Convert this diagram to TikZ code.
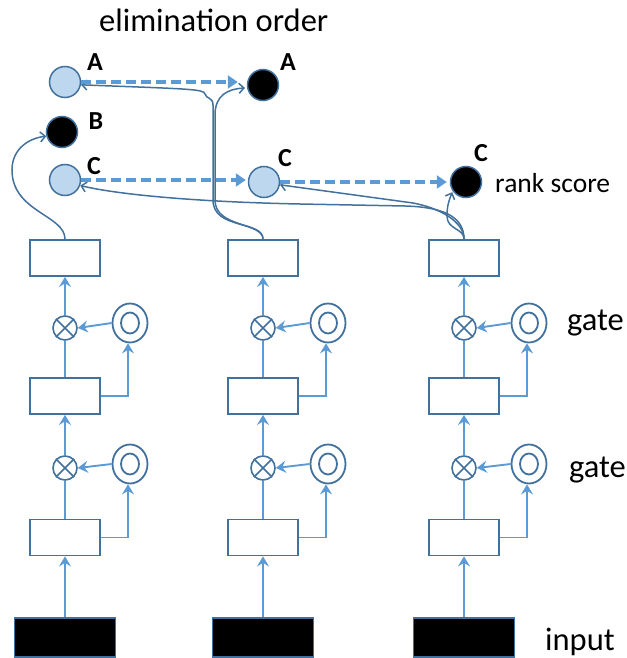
\documentclass[tikz,border=0pt]{standalone}
\usepackage{fontspec}
\setmainfont{Carlito}
\usetikzlibrary{arrows.meta,shapes.geometric}
\definecolor{dk}{HTML}{41719C}
\definecolor{lt}{HTML}{5B9BD5}
\definecolor{fillb}{HTML}{BDD7EE}
\begin{document}
\begin{tikzpicture}[x=1pt,y=-1pt,
 box/.style={draw=dk, line width=1.8pt, fill=white, minimum width=70pt, minimum height=36pt, inner sep=0pt},
 inbox/.style={draw=dk, line width=1.3pt, fill=black, minimum width=101pt, minimum height=39pt, inner sep=0pt},
 mult/.style={circle, draw=dk, line width=1.6pt, fill=white, minimum size=24pt, inner sep=0pt},
 gatec/.style={ellipse, draw=dk, line width=1.8pt, fill=white, minimum width=35pt, minimum height=39pt, inner sep=0pt},
 ball/.style={circle, draw=dk, line width=1.5pt, minimum size=31pt, inner sep=0pt},
 lball/.style={ball, fill=fillb},
 dball/.style={ball, fill=black},
 flow/.style={draw=lt, line width=1.9pt},
 flowarr/.style={flow, -{Stealth[length=10pt,width=12pt,inset=3.5pt]}},
 dasharr/.style={draw=lt, line width=3.6pt, dash pattern=on 10pt off 5pt, -{Triangle[length=10pt,width=13pt]}},
 thinarr/.style={draw=dk, line width=1.5pt, -{Straight Barb[length=5pt,width=10pt]}},
 lab/.style={font=\bfseries\fontsize{26}{26}\selectfont, inner sep=0pt},
 txt/.style={font=\fontsize{32.5}{32.5}\selectfont, inner sep=0pt, anchor=base west},
]
\useasboundingbox (0,0) rectangle (626,658);

\foreach \i/\cx in {1/65, 2/263, 3/464} {
  \node[box] (tb\i) at (\cx,258) {};
  \node[mult] (mu\i) at (\cx,328) {};
  \node[gatec] (gu\i) at (\cx+65,323) {};
  \node[box] (mb\i) at (\cx,396) {};
  \node[mult] (ml\i) at (\cx,468) {};
  \node[gatec] (gl\i) at (\cx+65,464) {};
  \node[box] (lb\i) at (\cx,537.5) {};
  \node[inbox] (in\i) at (\cx,637.5) {};
  \draw[dk,line width=1.5pt] (mu\i.north west) -- (mu\i.south east) (mu\i.north east) -- (mu\i.south west);
  \draw[dk,line width=1.5pt] (ml\i.north west) -- (ml\i.south east) (ml\i.north east) -- (ml\i.south west);
  \draw[dk,line width=1.8pt] (gu\i.center) ellipse [x radius=9pt, y radius=10.5pt];
  \draw[dk,line width=1.8pt] (gl\i.center) ellipse [x radius=9pt, y radius=10.5pt];
  \draw[flowarr] (in\i.north) -- (lb\i.south);
  \draw[flow] (lb\i.north) -- (ml\i.south);
  \draw[flowarr] (ml\i.north) -- (mb\i.south);
  \draw[flow] (mb\i.north) -- (mu\i.south);
  \draw[flowarr] (mu\i.north) -- (tb\i.south);
  \draw[flowarr] (gu\i.west) -- (mu\i.east);
  \draw[flowarr] (gl\i.west) -- (ml\i.east);
  \draw[flowarr] (mb\i.east) -| ([xshift=-2pt]gu\i.south);
  \draw[flowarr] (lb\i.east) -| ([xshift=-2pt]gl\i.south);
}

% score circles
\node[lball] (a1) at (65,82) {};
\node[dball] (a2) at (263,85) {};
\node[dball] (b1) at (62,132) {};
\node[lball] (c1) at (65,180) {};
\node[lball] (c2) at (264,182) {};
\node[dball] (c3) at (466,182) {};

% thin connectors from top boxes
\draw[thinarr] (tb1.north) .. controls (65,215) and (12,212) .. (12,170) .. controls (12,148) and (30,138) .. (b1.195);
\draw[thinarr, shorten >=2pt] (tb2.north) .. controls (263,222) and (215,228) .. (215,200) -- (215,115) .. controls (215,95) and (228,89) .. (a2.190);
\draw[thinarr] (tb2.north) .. controls (263,220) and (213,230) .. (213,200) -- (213,105) .. controls (213,97) and (206,99) .. (205,94) .. controls (204,89) and (190,89) .. (a1.-10);
\draw[thinarr, shorten >=1pt] (tb3.north) .. controls (464,228) and (447,230) .. (447,216) .. controls (447,206) and (449,200) .. (c3.215);
\draw[thinarr] (tb3.north) .. controls (464,222) and (440,208) .. (413,203) -- (c2.-10);
\draw[thinarr] (tb3.north) .. controls (464,215) and (440,207) .. (405,206) -- (300,204) .. controls (200,202) and (120,195) .. (c1.-20);

% dashed order arrows
\draw[dasharr, shorten >=9pt] (a1.east) -- (a1.east -| a2.west);
\draw[dasharr, shorten >=2pt] (c1.east) -- (c1.east -| c2.west);
\draw[dasharr, shorten >=3pt] (c2.east) -- (c2.east -| c3.west);

% labels
\node[lab] (la1) at (95,62) {A};
\node[lab] (la2) at (288,62) {A};
\node[lab] (lb1) at (96,121) {B};
\node[lab] (lc1) at (94,166) {C};
\node[lab] (lc2) at (285,158) {C};
\node[lab] (lc3) at (481,153) {C};

\node[txt] (t1) at (99,32) {elimination order};
\node[txt, font=\fontsize{27.5}{27.5}\selectfont] (t2) at (495,192) {rank score};
\node[txt] (t3) at (567,330) {gate};
\node[txt] (t4) at (569,477) {gate};
\node[txt] (t5) at (545,650) {input};
\end{tikzpicture}
\end{document}
